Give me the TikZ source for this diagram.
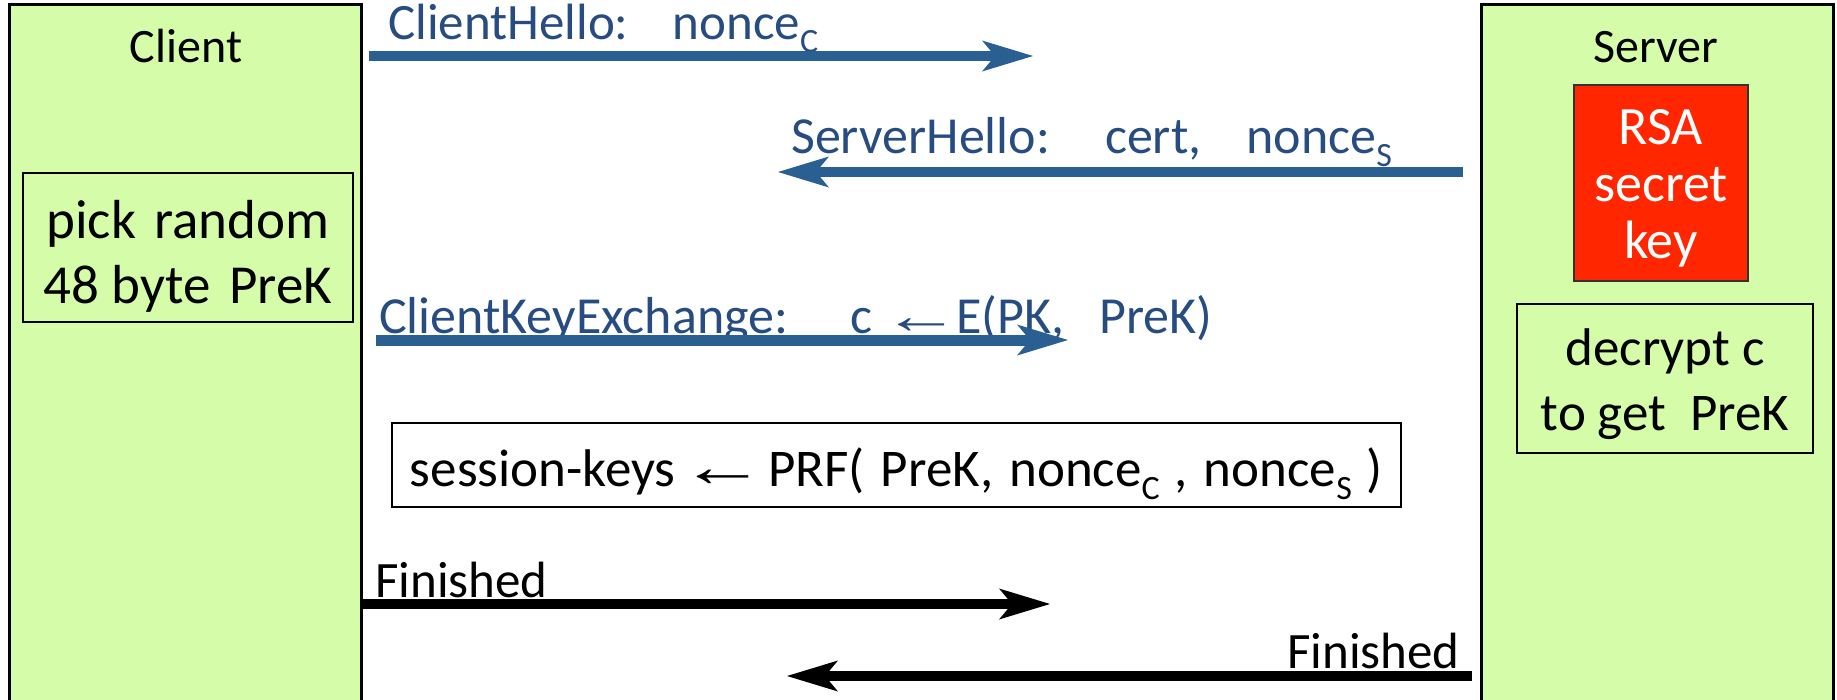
\documentclass[tikz,border=0pt]{standalone}
\usepackage{fontspec}
\usepackage{graphicx}
\setmainfont{Carlito}
\newfontfamily\arrfont{Liberation Serif}
\usetikzlibrary{arrows.meta}
\definecolor{panelgreen}{RGB}{213,252,168}
\definecolor{arrowblue}{RGB}{41,95,145}
\definecolor{textblue}{RGB}{38,76,130}
\definecolor{keyred}{RGB}{255,38,0}
\newcommand\sbs[1]{\raisebox{-0.26em}{\fontsize{34}{34}\selectfont #1}}
\newcommand\fsz[2]{\fontsize{#1}{#2}\selectfont}
\newcommand\larr[1]{\scalebox{1.5}[1]{\arrfont\fontsize{#1}{#1}\selectfont ←}}
\begin{document}
\begin{tikzpicture}[x=1pt,y=-1pt,
  panel/.style={draw=black, line width=3pt, fill=panelgreen, anchor=north west, inner sep=0pt, outer sep=0pt},
  inbox/.style={draw=black, line width=2pt, fill=panelgreen, align=center, inner sep=0pt, outer sep=0pt, text depth=0pt},
  keybox/.style={draw=black!80, line width=2pt, fill=keyred, text=white, align=center, inner sep=0pt, outer sep=0pt, text depth=0pt, font=\fsz{54}{57}},
  lbl/.style={inner sep=0pt, font=\fsz{48}{58}},
  msglbl/.style={inner sep=0pt, text=textblue, font=\fsz{52}{60}},
  finlbl/.style={inner sep=0pt, text=black, font=\fsz{51}{60}},
  tipshape/.style={-{Stealth[length=51pt,width=31pt,inset=13pt,line width=0pt]}},
  bluemsg/.style={tipshape, draw=arrowblue, fill=arrowblue, line width=10pt},
  blackmsg/.style={tipshape, draw=black, fill=black, line width=10pt}]
\useasboundingbox (0,0) rectangle (1837,699);

% panels
\node[panel, minimum width=352pt, minimum height=740pt] (client) at (9,4) {};
\node[panel, minimum width=352pt, minimum height=740pt] (server) at (1481,4) {};
\node[lbl, anchor=base] (clientlbl) at (186,62) {Client};
\node[lbl, anchor=base] (serverlbl) at (1656,62) {Server};

% boxes
\node[inbox, minimum width=330pt, minimum height=149pt, font=\fsz{55}{65}, text height=111pt] (pick) at (188,247.5)
  {pick\hspace{6pt} random\\48 byte\hspace{6pt} PreK};
\node[keybox, minimum width=174pt, minimum height=196pt, text height=150pt] (rsa) at (1661,183)
  {RSA\\secret\\key};
\node[inbox, minimum width=296pt, minimum height=149pt, font=\fsz{53}{65}, text height=103pt] (decrypt) at (1665,378.5)
  {decrypt c\\to get\hspace{12pt} PreK};
\node[inbox, fill=white, line width=2.5pt, minimum width=1009pt, minimum height=84pt, font=\fsz{53}{60}, text height=42pt] (session) at (896.5,465)
  {session-keys\hspace{4pt}\larr{58}\hspace{2pt}PRF(\hspace{4pt} PreK,\hspace{4pt} nonce\sbs{C}\hspace{3pt} ,\hspace{4pt} nonce\sbs{S}\hspace{3pt} )};

% message labels
\node[msglbl, anchor=base west, font=\fsz{51}{60}] (chlbl) at (388,39) {ClientHello:\hspace{44pt}nonce\sbs{C}};
\node[msglbl, anchor=base west] (shlbl) at (791,153) {ServerHello:\hspace{55pt}cert,\hspace{45pt}nonce\sbs{S}};
\node[msglbl, anchor=base west] (ckelbl) at (379,333) {ClientKeyExchange:\hspace{62pt}c\hspace{10pt}\larr{52}\hspace{-4pt}E(PK,\hspace{35pt}PreK)};
\node[finlbl, anchor=base west] (fin1lbl) at (375,597) {Finished};
\node[finlbl, anchor=base east] (fin2lbl) at (1460,668) {Finished};

% arrow end points
\coordinate (chs) at (369,56);   \coordinate (che) at (1033,56);
\coordinate (shs) at (1463,172); \coordinate (she) at (778,172);
\coordinate (ckes) at (376,340); \coordinate (ckee) at (1068,340);
\coordinate (f1s) at (361,604);  \coordinate (f1e) at (1050,604);
\coordinate (f2s) at (1472,676); \coordinate (f2e) at (787,676);

\draw[bluemsg] (chs) -- (che);
\draw[bluemsg] (shs) -- (she);
\draw[bluemsg, line width=11pt] (ckes) -- (ckee);
\draw[blackmsg] (f1s) -- (f1e);
\draw[blackmsg] (f2s) -- (f2e);
\end{tikzpicture}
\end{document}
